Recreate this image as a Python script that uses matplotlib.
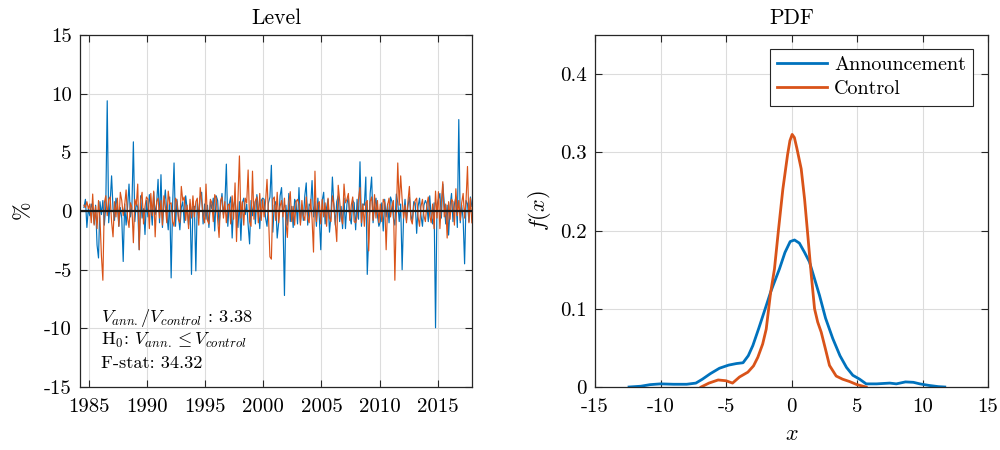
import numpy as np
import matplotlib
matplotlib.use("Agg")
import matplotlib.pyplot as plt

plt.rcParams['font.family'] = 'serif'
plt.rcParams['font.serif'] = ['cmr10']
plt.rcParams['mathtext.fontset'] = 'cm'
plt.rcParams['axes.unicode_minus'] = False
plt.rcParams['axes.formatter.use_mathtext'] = True

BLUE = '#0072BD'
ORANGE = '#D95319'

# eight observations a year, second half of 1984 .. end of 2017
start_year = 1984
start_slot = 4
per_year = 8
announcement = [
    0.3, 1.0, -1.4, 0.2,
    -0.4, 0.6, 0.2, -1.1, 0.5, -2.9, -4.0, 0.8,
    -0.3, 0.9, -1.2, 0.4, 9.4, -1.0, 0.7, 3.0,
    0.2, -0.8, 1.1, 0.5, -1.3, 0.3, -0.6, -4.3,
    0.6, -1.2, 0.3, 2.3, -0.5, 0.4, 5.9, -0.9,
    0.7, 0.3, -3.3, 1.3, -0.6, 0.2, -2.0, 0.9,
    -0.5, 1.4, 0.4, -1.2, 1.6, -0.3, 0.6, 2.7,
    -1.0, 3.1, -1.4, 0.5, 1.8, -0.2, -1.6, 1.2,
    -5.7, 0.5, 4.1, -1.3, 1.0, -0.4, -1.6, 0.3,
    0.8, -1.0, 1.3, 0.2, -1.2, 0.6, -5.4, 0.4,
    0.4, -5.1, 0.9, -0.6, 1.2, 1.6, -1.1, 0.6,
    -0.7, 0.5, -1.4, 0.8, 0.2, 1.1, -1.7, 1.3,
    0.9, -1.2, 0.4, 1.5, -0.3, 0.7, 4.0, -1.3,
    0.6, 1.2, -2.3, 0.5, 1.0, -0.6, -1.4, 0.8,
    -2.5, 0.7, 1.1, -0.3, 0.6, -1.2, -2.8, 0.9,
    -0.4, 0.8, -1.1, 1.4, 0.3, -1.5, 0.9, 1.1,
    1.0, -0.6, -1.3, 0.7, 1.2, 3.9, -1.8, 0.5,
    0.8, -2.3, -1.0, 1.3, 2.0, -0.8, -7.2, 0.5,
    -1.2, 1.5, -0.9, 0.4, -1.4, 1.0, 0.7, -1.1,
    2.0, -1.0, 0.5, -0.8, 1.3, 2.4, -1.2, 0.6,
    0.4, 2.6, -0.5, 0.8, -1.3, 1.1, -0.6, -3.3,
    0.9, 1.6, -1.1, 0.3, 1.0, -1.8, -0.4, 2.9,
    0.5, -1.2, 0.8, 1.3, -0.9, 0.4, -1.5, 1.1,
    -1.5, 0.6, 1.2, -0.5, -1.1, 0.9, 0.7, -1.6,
    1.0, -0.7, 4.2, -1.3, 0.6, 0.5, 2.9, -5.4,
    -2.2, 1.5, 2.9, -1.0, 0.4, 1.1, -0.4, -1.3,
    -0.9, 0.7, -1.7, 1.0, -0.5, 0.6, -1.0, 1.2,
    0.8, -0.6, -1.2, 1.45, 0.7, -0.9, 0.6, -5.0,
    -0.5, 1.0, -0.8, 0.4, 1.2, -0.3, -0.9, 0.8,
    0.7, -1.9, 0.4, 1.1, -0.4, -1.3, 0.5, 0.9,
    0.6, -0.9, 1.3, -0.5, -1.1, 0.7, -9.95, 0.5,
    1.0, 1.5, -0.6, 2.3, 0.6, -1.1, 0.5, -2.05,
    0.4, 1.5, -0.9, 0.6, 1.2, -1.4, 7.8, -1.0,
    0.5, -0.7, -4.5, 0.9, 0.6, -0.9, 1.2, 0.4,
]
control = [
    0.5, 0.3, 0.8, 0.2,
    0.6, -1.0, 1.45, -1.2, 0.4, -1.5, 0.9, -0.6,
    -3.8, -5.9, 0.7, 1.3, -0.4, 1.0, 1.2, -0.9,
    -2.2, 0.8, -0.5, 1.1, -1.3, 1.6, 0.9, -0.4,
    0.5, 1.8, -0.6, -1.4, 0.7, 0.3, -2.7, 1.0,
    0.5, 2.3, -3.3, 0.9, 1.6, -1.1, 0.4, 1.2,
    1.0, -1.5, 1.5, -0.4, 1.7, -2.2, 0.8, 1.1,
    -0.6, 0.9, -1.2, 1.3, 0.4, -1.0, 1.7, 0.6,
    0.7, -0.9, -1.3, 1.1, 0.8, -0.7, -1.0, 2.1,
    0.9, 1.2, -0.8, 0.5, -1.5, 1.0, -0.6, 1.3,
    -0.5, 0.8, 1.1, -1.2, 2.0, 0.9, -0.4, -1.0,
    2.3, -0.8, -1.1, 1.0, 0.7, -0.9, 1.4, 1.1,
    -0.7, -2.25, 0.9, 1.2, -0.6, 0.8, -1.0, 0.5,
    0.6, -1.1, 1.3, -0.7, 2.4, -2.6, 1.0, 4.7,
    -0.6, 0.8, -1.2, 1.1, 0.7, 3.5, -0.9, -1.3,
    3.4, -0.7, 0.9, 1.2, -1.0, 1.5, -0.8, 1.0,
    -0.5, 0.8, 2.7, -0.4, -3.9, -4.1, 1.0, 1.2,
    -0.8, 1.6, -1.0, 0.4, 0.9, -0.5, 1.1, -0.9,
    -2.25, 0.7, 1.65, -0.9, 0.4, -1.2, 0.8, 1.0,
    0.6, -1.2, 0.9, -0.4, -0.8, 1.2, -0.6, -1.0,
    1.0, -0.7, -3.5, 3.4, -0.9, 0.6, 0.8, -1.1,
    1.0, -0.5, 0.7, -1.3, 1.1, -0.6, -0.9, 1.3,
    0.6, -1.0, -2.6, 2.2, 0.9, -0.5, -1.1, 2.3,
    0.7, 1.0, 1.5, -0.8, 0.5, 1.2, -0.9, -1.0,
    -0.5, 1.1, 2.0, -1.0, 0.6, -1.3, 0.7, 0.9,
    -3.4, 0.8, 1.2, -0.8, 1.4, -0.6, 0.9, -1.0,
    0.6, -0.9, 1.0, 0.7, -3.3, 0.5, 1.1, -0.5,
    0.4, 0.9, -5.9, -0.4, 4.1, 0.5, 3.0, 1.0,
    -0.6, 0.5, -1.0, 0.8, 2.1, -0.7, -1.1, 0.4,
    0.9, 1.1, -0.5, -1.3, 0.4, 1.0, -0.4, -0.9,
    0.5, 1.2, -0.4, -1.0, 0.6, -1.5, 1.7, -0.6,
    1.65, -1.5, 0.7, 2.5, -0.5, 0.6, -2.3, 0.8,
    -0.7, 1.0, 0.8, -1.2, 1.9, -0.4, 0.9, -0.8,
    0.7, 1.5, -0.6, 0.9, 3.8, -1.0, 1.1, -1.0,
]

# kernel density curves
pdf_ann_x = [-12.4, -11.5, -10.8, -10.0, -9.0, -8.0, -7.3, -6.8, -6.2, -5.5,
             -4.8, -4.2, -3.7, -3.3, -2.95, -2.5, -1.93, -1.6, -1.4, -0.92,
             -0.5, -0.1, 0.23, 0.6, 1.0, 1.37, 1.8, 2.14, 2.6, 3.15,
             3.7, 4.2, 4.68, 5.2, 5.7, 6.5, 7.5, 8.0, 8.7, 9.3,
             9.8, 10.5, 11.2, 11.7]
pdf_ann_y = [0.0, 0.001, 0.003, 0.004, 0.0035, 0.0035, 0.005, 0.010, 0.017, 0.024,
             0.028, 0.030, 0.031, 0.040, 0.053, 0.075, 0.104, 0.121, 0.130, 0.151,
             0.172, 0.186, 0.188, 0.184, 0.172, 0.160, 0.136, 0.117, 0.088, 0.062,
             0.040, 0.025, 0.015, 0.010, 0.004, 0.004, 0.005, 0.004, 0.0065, 0.006,
             0.004, 0.002, 0.0005, 0.0]
pdf_ctl_x = [-6.9, -6.3, -5.6, -5.0, -4.5, -3.97, -3.33, -2.9, -2.57, -2.2,
             -1.93, -1.6, -1.3, -1.0, -0.66, -0.3, -0.12, 0.05, 0.22, 0.4,
             0.74, 1.0, 1.25, 1.5, 1.76, 2.0, 2.27, 2.6, 2.9, 3.41,
             3.9, 4.43, 5.0, 5.7]
pdf_ctl_y = [0.0, 0.005, 0.009, 0.008, 0.005, 0.0128, 0.019, 0.027, 0.038, 0.055,
             0.074, 0.120, 0.151, 0.200, 0.253, 0.297, 0.315, 0.323, 0.319, 0.306,
             0.279, 0.240, 0.193, 0.145, 0.100, 0.083, 0.070, 0.048, 0.0276, 0.014,
             0.010, 0.007, 0.003, 0.0]

ratio = 3.38
fstat = 34.32


def style_axes(ax):
    ax.grid(True, color='#dcdcdc', linewidth=0.8)
    ax.set_axisbelow(True)
    ax.tick_params(direction='in', top=True, right=True, length=5,
                   width=0.8, color='#262626', labelsize=15)
    ax.tick_params(axis='x', pad=8)
    ax.tick_params(axis='y', pad=6)
    for s in ax.spines.values():
        s.set_color('#262626')
        s.set_linewidth(0.9)


fig = plt.figure(figsize=(10, 4.5), dpi=100)
ax1 = fig.add_axes([0.080, 0.140, 0.392, 0.782])
ax2 = fig.add_axes([0.595, 0.140, 0.393, 0.782])

# left panel: level series
t_ann = start_year + (start_slot + np.arange(len(announcement)) + 0.5) / per_year
t_ctl = start_year + (start_slot + np.arange(len(control)) + 0.5) / per_year
ax1.plot(t_ann, announcement, color=BLUE, linewidth=0.85)
ax1.plot(t_ctl, control, color=ORANGE, linewidth=0.85)
ax1.axhline(0, color='#1a1a1a', linewidth=1.6, zorder=5)
ax1.set_xlim(1984.22, 2017.95)
ax1.set_ylim(-15, 15)
xt = [1985, 1990, 1995, 2000, 2005, 2010, 2015]
ax1.set_xticks(xt)
ax1.set_xticklabels([str(v) for v in xt])
yt = [-15, -10, -5, 0, 5, 10, 15]
ax1.set_yticks(yt)
ax1.set_yticklabels([str(v) for v in yt])
ax1.set_ylabel(r'$\%$', fontsize=16, labelpad=7)
ax1.set_title('Level', fontsize=15.5, pad=8)
style_axes(ax1)

ax1.text(0.054, 0.196, r'$V_{ann.}/V_{control}$ : %.2f' % ratio,
         transform=ax1.transAxes, fontsize=13.2, va='center')
ax1.text(0.054, 0.131, r'H$_0$: $V_{ann.} \leq V_{control}$',
         transform=ax1.transAxes, fontsize=13.2, va='center')
ax1.text(0.054, 0.066, 'F-stat: %.2f' % fstat,
         transform=ax1.transAxes, fontsize=13.2, va='center')

# right panel: densities
ax2.plot(pdf_ann_x, pdf_ann_y, color=BLUE, linewidth=2, label='Announcement')
ax2.plot(pdf_ctl_x, pdf_ctl_y, color=ORANGE, linewidth=2, label='Control')
ax2.set_xlim(-15, 15)
ax2.set_ylim(0, 0.45)
xt2 = [-15, -10, -5, 0, 5, 10, 15]
ax2.set_xticks(xt2)
ax2.set_xticklabels([str(v) for v in xt2])
yt2 = [0, 0.1, 0.2, 0.3, 0.4]
ax2.set_yticks(yt2)
ax2.set_yticklabels(['0', '0.1', '0.2', '0.3', '0.4'])
ax2.set_xlabel(r'$x$', fontsize=16, labelpad=6)
ax2.set_ylabel(r'$f(x)$', fontsize=16, labelpad=5)
ax2.set_title('PDF', fontsize=15.5, pad=8)
style_axes(ax2)
leg = ax2.legend(loc='upper right', fontsize=14.5, fancybox=False,
                 framealpha=1, edgecolor='#262626', handlelength=2.5,
                 borderpad=0.35, labelspacing=0.3, handletextpad=0.35,
                 borderaxespad=0, bbox_to_anchor=(0.962, 0.96))
leg.get_frame().set_linewidth(0.8)

fig.savefig('out.png', dpi=100)
